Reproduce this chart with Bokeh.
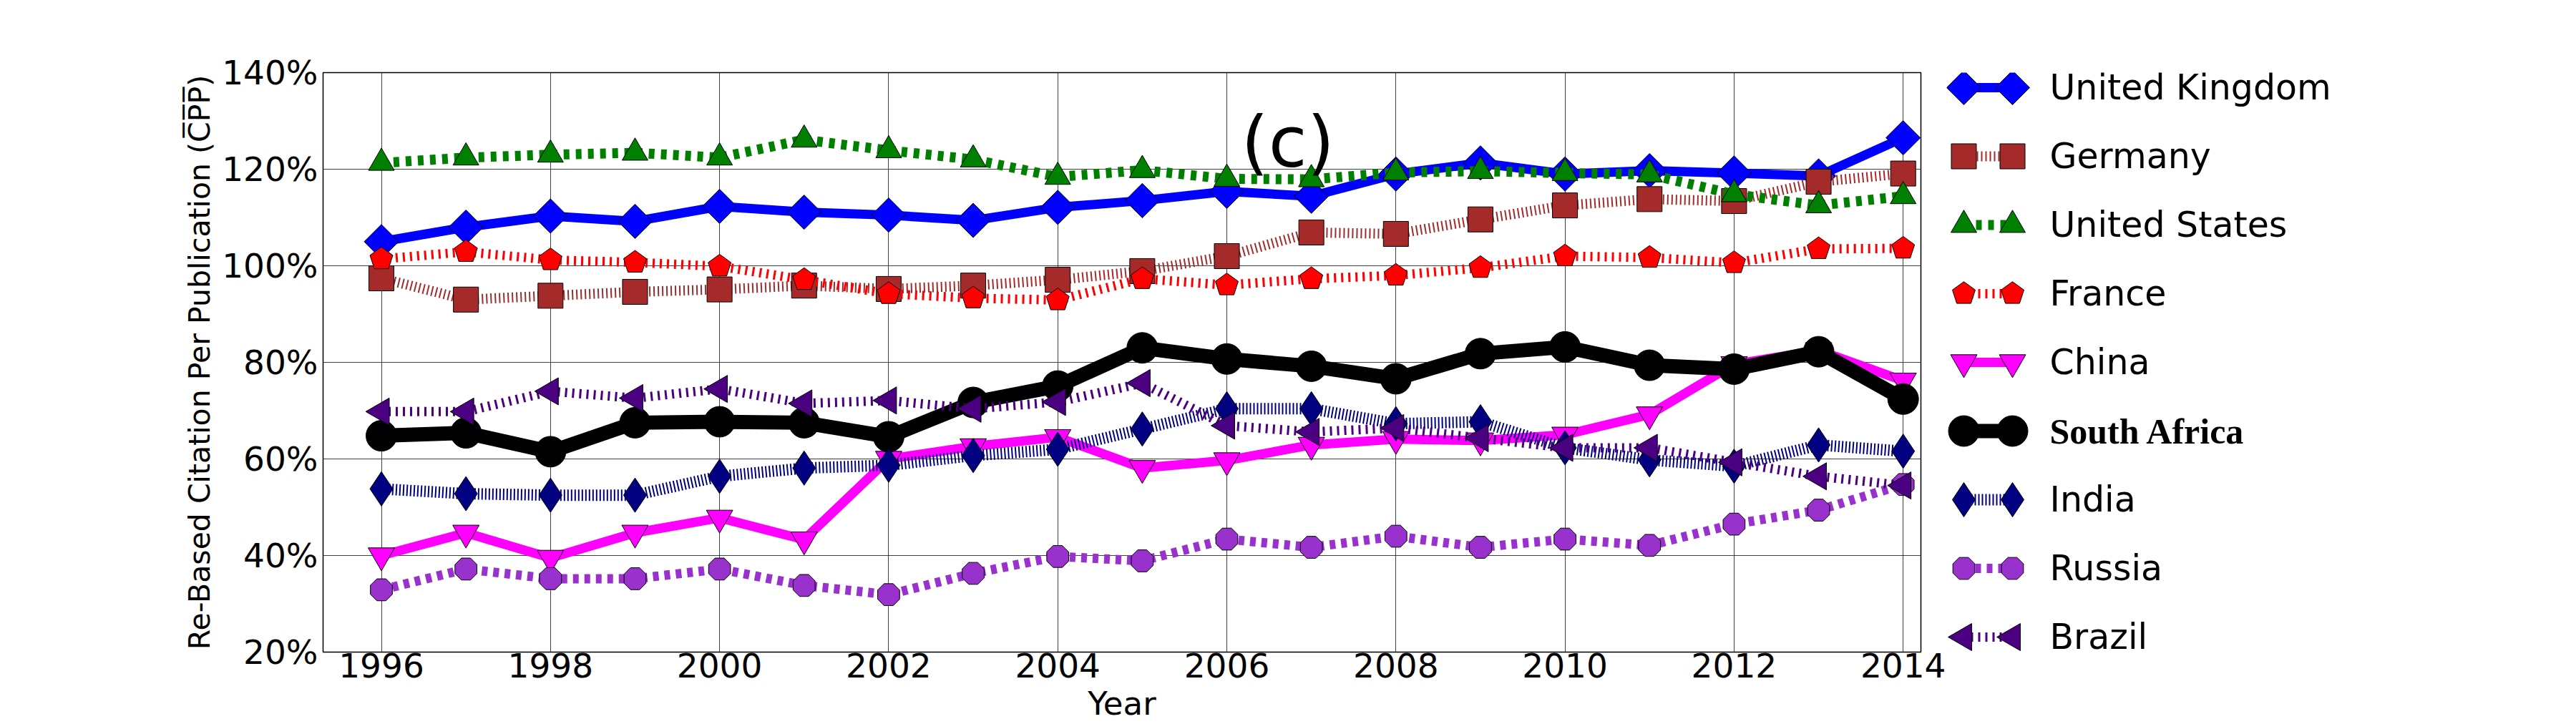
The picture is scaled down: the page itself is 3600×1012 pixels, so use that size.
import numpy as np
from bokeh.plotting import figure
from bokeh.models import Range1d, FixedTicker, PrintfTickFormatter, Label
from bokeh.layouts import row
from bokeh.embed import file_html
from bokeh.resources import INLINE
from bokeh.core.properties import value

# ---------------- data ----------------
years = list(range(1996, 2015))
united_kingdom = [105.0, 108.0, 110.3, 109.2, 112.3, 111.1, 110.5, 109.4, 112.1, 113.5,
                  115.4, 114.4, 119.0, 121.3, 119.0, 119.7, 119.2, 118.6, 126.5]
germany = [97.4, 93.0, 93.8, 94.6, 95.1, 95.9, 95.2, 95.9, 97.1, 98.9,
           102.0, 106.9, 106.6, 109.6, 112.5, 113.8, 113.4, 117.4, 119.1]
united_states = [121.3, 122.4, 123.0, 123.4, 122.4, 126.1, 123.9, 122.0, 118.4, 119.8,
                 118.0, 117.9, 119.3, 119.6, 119.2, 118.9, 114.8, 112.5, 114.4]
france = [101.4, 102.9, 101.2, 100.7, 99.9, 97.1, 94.2, 93.3, 92.9, 97.3,
          96.0, 97.3, 98.0, 99.6, 102.0, 101.7, 100.6, 103.5, 103.6]
china = [40.0, 44.7, 39.5, 44.7, 47.8, 43.3, 60.0, 62.6, 64.5, 58.1,
         59.7, 62.9, 64.1, 63.8, 65.0, 69.2, 79.6, 82.5, 76.2]
south_africa = [64.8, 65.4, 61.5, 67.5, 67.7, 67.5, 64.6, 71.7, 75.1, 83.0,
                80.7, 79.2, 76.6, 81.8, 83.2, 79.4, 78.6, 82.2, 72.4]
india = [53.8, 52.8, 52.5, 52.5, 56.4, 58.1, 58.7, 60.7, 62.0, 66.2,
         70.4, 70.4, 67.3, 67.7, 62.3, 59.8, 58.5, 62.9, 61.6]
russia = [32.9, 37.2, 35.2, 35.2, 37.2, 33.8, 31.9, 36.3, 39.8, 38.9,
          43.4, 41.7, 44.0, 41.7, 43.4, 42.1, 46.5, 49.4, 54.7]
brazil = [69.8, 69.8, 74.0, 72.6, 74.5, 71.5, 72.1, 70.4, 71.8, 75.7,
          66.9, 65.6, 66.4, 64.3, 62.3, 62.3, 59.3, 56.4, 54.5]

countries = ["United Kingdom", "Germany", "United States", "France", "China",
             "South Africa", "India", "Russia", "Brazil"]
series = [united_kingdom, germany, united_states, france, china,
          south_africa, india, russia, brazil]
x_ticks = [1996, 1998, 2000, 2002, 2004, 2006, 2008, 2010, 2012, 2014]
y_ticks = [20, 40, 60, 80, 100, 120, 140]
y_label = "Re-Based Citation Per Publication (C\u0305P\u0305P\u0305)"
x_label = "Year"
panel_tag = "(c)"

# ---------------- styles ----------------
styles = [
    dict(color="#0000ff", width=13, dash="solid", marker="square", size=34, angle=np.pi / 4),
    dict(color="#a52a2a", width=14, dash="2 4", marker="square", size=35, angle=0),
    dict(color="#008000", width=14, dash="8 9", marker="triangle", size=36, angle=0),
    dict(color="#ff0000", width=13, dash="3 7", ngon=5, radius=16.8, angle=0),
    dict(color="#ff00ff", width=13, dash="solid", marker="inverted_triangle", size=37, angle=0),
    dict(color="#000000", width=20, dash="solid", marker="circle", size=43, angle=0),
    dict(color="#000080", width=16, dash="2 3", marker="diamond", size=48, angle=0),
    dict(color="#9932cc", width=13, dash="8 8", ngon=8, radius=16.6, angle=np.pi / 8),
    dict(color="#4b0082", width=13, dash="3 7", marker="triangle", size=38, angle=np.pi / 2),
]

FONT = "DejaVu Sans"

# layout (page pixels)
TOP, FRAME_H, BOTTOM = 101, 810, 100
LEFT, FRAME_W, RIGHT = 451, 2233, 36


def draw_markers(fig, xs, ys, st):
    if "ngon" in st and hasattr(fig, "ngon"):
        fig.ngon(x=xs, y=ys, radius=st["radius"], radius_units="screen", n=st["ngon"],
                 angle=st["angle"], fill_color=st["color"], line_color="black", line_width=1)
    elif "ngon" in st:
        fig.scatter(x=xs, y=ys, marker="hex", size=st["radius"] * 2, angle=st["angle"],
                    fill_color=st["color"], line_color="black", line_width=1)
    else:
        fig.scatter(x=xs, y=ys, marker=st["marker"], size=st["size"], angle=st["angle"],
                    fill_color=st["color"], line_color="black", line_width=1)


# ---------------- main figure ----------------
p = figure(frame_width=FRAME_W, frame_height=FRAME_H,
           x_range=Range1d(1995.31, 2014.21), y_range=Range1d(20, 140),
           output_backend="svg", toolbar_location=None,
           min_border_left=LEFT, min_border_top=TOP, min_border_right=RIGHT,
           min_border_bottom=BOTTOM,
           background_fill_color="white", border_fill_color="white")

for vals, st in zip(series, styles):
    p.line(x=years, y=vals, line_color=st["color"], line_width=st["width"],
           line_dash=st["dash"], line_join="round")
    draw_markers(p, years, vals, st)

p.xaxis.ticker = FixedTicker(ticks=x_ticks)
p.yaxis.ticker = FixedTicker(ticks=y_ticks)
p.yaxis.formatter = PrintfTickFormatter(format="%d%%")
for ax in (p.xaxis, p.yaxis):
    ax.major_label_text_font = FONT
    ax.major_label_text_font_size = "47px"
    ax.major_label_text_color = "black"
    ax.major_tick_in = 0
    ax.major_tick_out = 0
    ax.minor_tick_in = 0
    ax.minor_tick_out = 0
    ax.axis_line_color = None
    ax.axis_label_text_font = FONT
    ax.axis_label_text_font_style = "normal"
    ax.axis_label_text_color = "black"
p.xaxis.major_label_standoff = 1
p.xaxis.axis_label = x_label
p.xaxis.axis_label_text_font_size = "45px"
p.xaxis.axis_label_standoff = 7
p.yaxis.major_label_standoff = 7
p.yaxis.axis_label = y_label
p.yaxis.axis_label_text_font_size = "41px"
p.yaxis.axis_label_standoff = 4

p.xgrid.grid_line_color = "black"
p.ygrid.grid_line_color = "black"
p.xgrid.grid_line_alpha = 0.75
p.ygrid.grid_line_alpha = 0.75
p.xgrid.grid_line_width = 1
p.ygrid.grid_line_width = 1
p.outline_line_color = "black"
p.outline_line_width = 1.5
p.outline_line_alpha = 1.0

p.add_layout(Label(x=2006.17, y=125.5, text=panel_tag, text_align="left",
                   text_baseline="middle", text_font=FONT,
                   text_font_size="98px", text_color="black"))

# ---------------- legend figure (same vertical structure as main) ----------------
LW = 870
leg = figure(frame_width=LW, frame_height=FRAME_H, x_range=Range1d(0, LW),
             y_range=Range1d(FRAME_H, 0),
             output_backend="svg", toolbar_location=None,
             min_border_left=0, min_border_right=0,
             min_border_top=TOP, min_border_bottom=BOTTOM,
             x_axis_type=None, y_axis_type=None,
             background_fill_color="white", border_fill_color="white")
leg.outline_line_color = None
leg.xgrid.visible = False
leg.ygrid.visible = False

x1, x2, xt = 24, 92, 144
row0, row_step = 21, 96.0
for i, (name, st) in enumerate(zip(countries, styles)):
    yy = row0 + row_step * i
    leg.line(x=[x1, x2], y=[yy, yy], line_color=st["color"], line_width=st["width"],
             line_dash=st["dash"])
    draw_markers(leg, [x1, x2], [yy, yy], st)
    if name == "South Africa":
        leg.text(x=[xt], y=[yy], text=[name], text_font=value("Liberation Serif"),
                 text_font_style="bold", text_font_size="50px", text_baseline="middle",
                 text_color="black")
    else:
        leg.text(x=[xt], y=[yy], text=[name], text_font=value(FONT),
                 text_font_size="49px", text_baseline="middle", text_color="black")

layout = row(p, leg)
open("out.html", "w").write(file_html(layout, INLINE))
